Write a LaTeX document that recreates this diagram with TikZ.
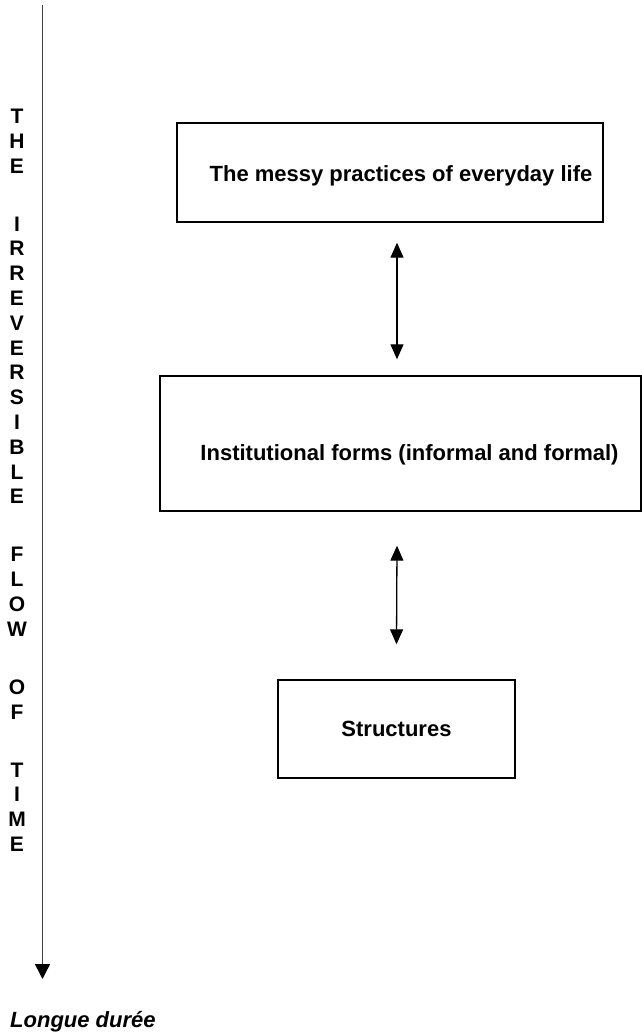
\documentclass[tikz,border=0pt]{standalone}
\usepackage{fontspec}
\setmainfont{Liberation Sans}
\usetikzlibrary{arrows.meta}
\begin{document}
\begin{tikzpicture}[x=1pt,y=-1pt,
  box/.style={draw=black,line width=1.4pt,inner sep=0pt},
  lbl/.style={font=\bfseries\fontsize{22}{24}\selectfont,anchor=base,inner sep=0pt},
  vl/.style={font=\bfseries\fontsize{21}{22}\selectfont,anchor=base,inner sep=0pt},
  dbl/.style={line width=1.3pt,{Triangle[width=13pt,length=15pt]}-{Triangle[width=13pt,length=15pt]}},
  tarrow/.style={line width=1.4pt,draw=black!75,-{Triangle[width=15pt,length=15pt,color=black]}}]
\useasboundingbox (0,0) rectangle (642,1033);
% time axis
\coordinate (top) at (42.5,5);
\coordinate (bot) at (42.5,979);
\draw[tarrow] (top) -- (bot);
% vertical letters (cap centres)
\foreach \ch/\y [count=\i] in {T/116,H/140.8,E/165.6,I/223.6,R/248.4,R/273.2,E/298,V/322.8,E/347.6,R/372.4,S/397.2,I/422,B/446.8,L/471.6,E/496.4,F/554.4,L/579.2,O/604,W/628.8,O/686.8,F/711.6,T/769.6,I/794.4,M/819.2,E/844}
  \node[vl] (v\i) at (17,\y+7.5) {\ch};
% boxes
\node[box,minimum width=426pt,minimum height=99pt] (b1) at (390,172.5) {};
\node[box,minimum width=481pt,minimum height=135pt] (b2) at (400.5,443.5) {};
\node[box,minimum width=237pt,minimum height=98pt] (b3) at (396.5,729) {};
\node[lbl] (t1) at (401,181) {The messy practices of everyday life};
\node[lbl] (t2) at (409.5,460) {Institutional forms (informal and formal)};
\node[lbl] (t3) at (396.5,736) {Structures};
% double arrows
\draw[dbl] ([xshift=7pt,yshift=-20pt]b1.south) -- ([xshift=-3.5pt,yshift=16pt]b2.north);
\draw[dbl] ([xshift=-3.5pt,yshift=-34pt]b2.south) -- ([yshift=35pt]b3.north);
% bottom label
\node[anchor=base west,inner sep=0pt,font=\bfseries\itshape\fontsize{22}{24}\selectfont] (ld) at (10,1027) {Longue durée};
\end{tikzpicture}
\end{document}
